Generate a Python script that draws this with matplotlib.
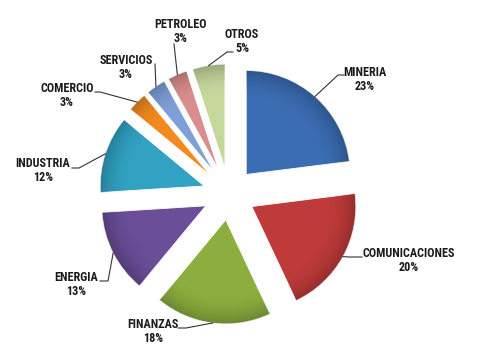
import numpy as np
import matplotlib.pyplot as plt
from matplotlib import font_manager

# datos del grafico
sectores = ["MINERIA", "COMUNICACIONES", "FINANZAS", "ENERGIA", "INDUSTRIA",
            "COMERCIO", "SERVICIOS", "PETROLEO", "OTROS"]
porcentajes = [23, 20, 18, 13, 12, 3, 3, 3, 5]
colores = ["#3b6db3", "#bf3b3a", "#8cae3e", "#6a4e98", "#31a2c2",
           "#f28a20", "#7f9fd8", "#d98e8d", "#c5d89c"]

# posiciones de etiquetas en pixeles (x centro, y linea 1) y fin de la guia
pos_texto = [(365, 72), (409, 254), (153, 325), (76, 278), (43, 164),
             (67, 88), (126, 61), (181, 25), (242, 34)]
codo = [(338, 75), (349, 257), (186, 328), (108, 281), (79, 168),
        (100, 92), (155, 64), (174, 44), (227, 52)]
fin = [(344, 75), (362, 257), (178, 328), (100, 281), (72, 168),
       (95, 92), (155, 64), (174, 44), (233, 52)]

W, H = 483, 360
CX, CY, R = 229, 194, 104   # centro y radio en pixeles
SEP = 26                    # separacion de las porciones


def px(x, y):
    # pixel (y hacia abajo) -> coordenadas de datos
    return (x - CX) / R, (CY - y) / R


# fuente estrecha si existe
nombres = {f.name for f in font_manager.fontManager.ttflist}
estrechas = [n for n in ["Liberation Sans Narrow", "Arial Narrow", "Roboto Condensed",
                         "Open Sans Condensed", "DejaVu Sans Condensed"] if n in nombres]
if estrechas:
    familia, tam, estira = [estrechas[0], "DejaVu Sans"], 8.7, "normal"
else:
    familia, tam, estira = ["Liberation Sans", "DejaVu Sans"], 7.4, "condensed"

fig = plt.figure(figsize=(W / 100, H / 100), dpi=100)
ax = fig.add_axes([0, 0, 1, 1])

wedges, _ = ax.pie(porcentajes, colors=colores, startangle=90, counterclock=False,
                   explode=[SEP / R] * len(porcentajes),
                   wedgeprops=dict(linewidth=0.6, edgecolor="#ffffff"))

x0, y0 = px(0, H)
x1, y1 = px(W, 0)

# sombreado suave hacia el borde
gx, gy = np.meshgrid(np.linspace(x0, x1, W), np.linspace(y1, y0, H))
for w in wedges:
    wx, wy = w.center
    r = np.hypot(gx - wx, gy - wy)
    sombra = np.zeros((H, W, 4))
    sombra[..., 3] = 0.22 * np.clip((r - 0.7) / 0.3, 0, 1) ** 2
    im = ax.imshow(sombra, extent=(x0, x1, y0, y1), zorder=3, interpolation="bilinear")
    im.set_clip_path(w)

ax.set_xlim(x0, x1)
ax.set_ylim(y0, y1)
ax.set_aspect("equal")
ax.axis("off")

fuente = dict(family=familia, weight="bold", size=tam, stretch=estira, color="#1a1a1a")

for w, nom, val, t, c, f in zip(wedges, sectores, porcentajes, pos_texto, codo, fin):
    # punto medio del arco exterior
    ang = np.deg2rad((w.theta1 + w.theta2) / 2)
    ax0 = w.center[0] + np.cos(ang)
    ay0 = w.center[1] + np.sin(ang)
    cxp, cyp = px(*c)
    fxp, fyp = px(*f)
    ax.plot([ax0, cxp, fxp], [ay0, cyp, fyp], color="#333333", lw=0.8, zorder=4)
    tx, ty = px(*t)
    ax.text(tx, ty, nom, ha="center", va="center", zorder=5, **fuente)
    tx2, ty2 = px(t[0], t[1] + 14)
    ax.text(tx2, ty2, f"{val}%", ha="center", va="center", zorder=5, **fuente)

fig.savefig("out.png", dpi=100, facecolor="white")
